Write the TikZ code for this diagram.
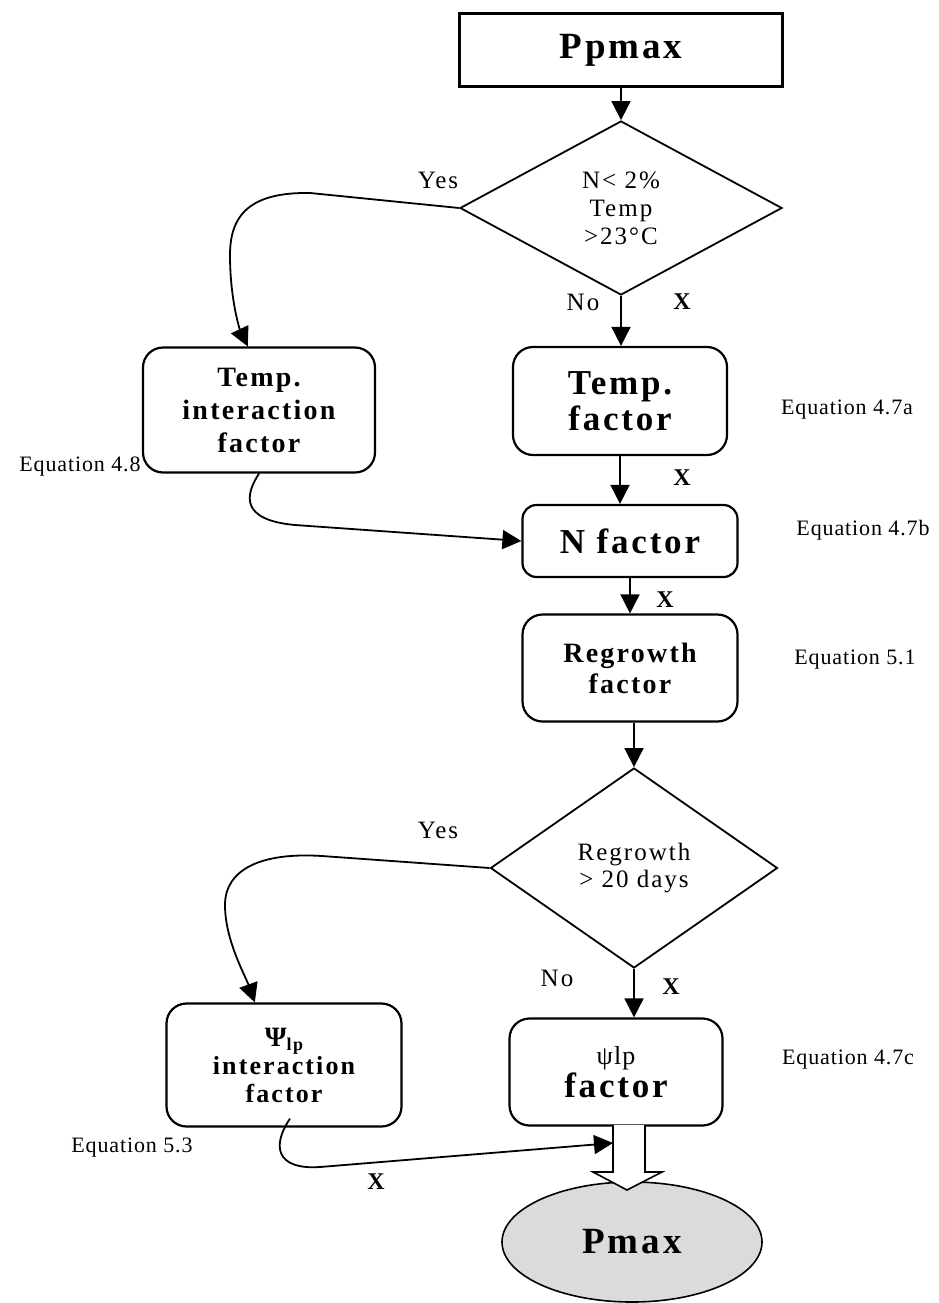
\documentclass[tikz,border=0pt]{standalone}
\usepackage{fontspec}
\setmainfont{Liberation Serif}
\newfontfamily\boxfont{Liberation Serif}[LetterSpace=8]
\newfontfamily\askfont{Liberation Serif}[LetterSpace=8]
\newfontfamily\eqfont{Liberation Serif}[LetterSpace=4]
\usetikzlibrary{shapes.geometric, arrows.meta, positioning, calc}

\tikzset{
  factorbox/.style={draw, line width=2.2pt, rounded corners=20pt, align=center, inner sep=0pt},
  decision/.style={draw, diamond, line width=1.8pt, align=center, inner sep=0pt,
                   font=\askfont\fontsize{25}{28}\selectfont},
  flow/.style={line width=1.8pt, -{Triangle[length=19pt,width=19pt]}},
  eqlabel/.style={font=\eqfont\fontsize{22}{26}\selectfont},
  answer/.style={font=\askfont\fontsize{25}{28}\selectfont},
  xmark/.style={font=\bfseries\fontsize{24}{28}\selectfont},
}

\begin{document}
\begin{tikzpicture}[x=1pt, y=-1pt]
                \useasboundingbox (0,0) rectangle (939,1303);

                % draw the start box and the first question
                \node [draw, line width=2.2pt, minimum width=323pt, minimum height=73pt,
                       font=\boxfont\bfseries\fontsize{37}{40}\selectfont] (ppmax) at (621,50) {Ppmax};
                \node [decision, minimum width=322pt, minimum height=174pt] (dec1) at (621,208)
                      {N< 2\%\\Temp\\>23°C};

                % the factor boxes
                \node [factorbox, minimum width=232pt, minimum height=125pt,
                       font=\boxfont\bfseries\fontsize{28}{33}\selectfont] (tint) at (259,410)
                      {Temp.\\interaction\\factor};
                \node [factorbox, minimum width=214pt, minimum height=108pt,
                       font=\boxfont\bfseries\fontsize{35}{36}\selectfont] (tfac) at (620,401)
                      {Temp.\\factor};
                \node [factorbox, rounded corners=14pt, minimum width=215pt, minimum height=72pt,
                       font=\boxfont\bfseries\fontsize{35}{36}\selectfont] (nfac) at (630,541)
                      {N factor};
                \node [factorbox, minimum width=215pt, minimum height=107pt,
                       font=\boxfont\bfseries\fontsize{28}{31}\selectfont] (regr) at (630,668)
                      {Regrowth\\factor};
                \node [decision, minimum width=287pt, minimum height=200pt,
                       font=\askfont\fontsize{25}{27}\selectfont] (dec2) at (634,868)
                      {Regrowth\\> 20 days};
                \node [factorbox, minimum width=235pt, minimum height=123pt,
                       font=\askfont\bfseries\fontsize{26}{28}\selectfont] (pint) at (284,1065)
                      {{\fontsize{28}{30}\selectfont Ψ}\raisebox{-4pt}{\fontsize{18}{20}\selectfont lp}\\interaction\\factor};
                \node [factorbox, minimum width=213pt, minimum height=107pt] (pfac) at (616,1072)
                      {{\eqfont\fontsize{26}{28}\selectfont ψlp}\\[2pt]
                       {\boxfont\bfseries\fontsize{35}{36}\selectfont factor}};

                % the result
                \node [ellipse, draw, line width=1.6pt, fill=black!14,
                       minimum width=260pt, minimum height=120pt,
                       font=\boxfont\bfseries\fontsize{37}{40}\selectfont] (pmax) at (632,1242) {Pmax};

                % straight arrows down the middle
                \draw [flow] (ppmax) -- (dec1);
                \draw [flow] (dec1.south) -- (dec1.south |- tfac.north);
                \draw [flow] (tfac.south) -- (tfac.south |- nfac.north);
                \draw [flow] (nfac.south) -- (nfac.south |- regr.north);
                \draw [flow] (dec2.north |- regr.south) -- (dec2.north);
                \draw [flow] (dec2.south) -- (dec2.south |- pfac.north);

                % the "Yes" branches
                \draw [flow] (dec1.west) -- (310,193) .. controls (250,192) and (230,215) .. (230,255)
                      .. controls (230,300) and (240,330) .. (tint.100);
                \draw [flow] (tint.south) .. controls (245,495) and (240,520) .. (295,525) -- (nfac.west);
                \draw [flow] (dec2.west) -- (322,856) .. controls (260,852) and (225,870) .. (225,905)
                      .. controls (225,940) and (245,975) .. (pint.115);

                % hollow arrow into Pmax
                \coordinate (hroot) at (629,1125);
                \coordinate (hin) at ($(hroot)+(-16,18)$);
                \draw [line width=1.6pt, fill=white, line join=miter] (hroot) ++(-16,0) -- ++(0,47) -- ++(-20,0)
                      -- ++(34,18) -- ++(35,-18) -- ++(-17,0) -- ++(0,-47);
                \draw [flow] ([xshift=6pt,yshift=9pt]pint.south) .. controls (272,1145) and (275,1170) .. (320,1167)
                      -- (hin);

                % answers and multiply marks
                \node [answer] (yes1) at (438,180) {Yes};
                \node [answer] (no1) at (583,302) {No};
                \node [xmark] (x1) at (682,302) {X};
                \node [xmark] (x2) at (682,478) {X};
                \node [xmark] (x3) at (665,600) {X};
                \node [answer] (yes2) at (438,830) {Yes};
                \node [answer] (no2) at (557,978) {No};
                \node [xmark] (x4) at (671,987) {X};
                \node [xmark] (x5) at (376,1182) {X};

                % equation references
                \node [eqlabel] (eqa) at (847,410) {Equation 4.7a};
                \node [eqlabel] (eqh) at (80,467) {Equation 4.8};
                \node [eqlabel] (eqb) at (863,530) {Equation 4.7b};
                \node [eqlabel] (eqr) at (855,660) {Equation 5.1};
                \node [eqlabel] (eqc) at (848,1060) {Equation 4.7c};
                \node [eqlabel] (eqi) at (132,1148) {Equation 5.3};
\end{tikzpicture}
\end{document}
